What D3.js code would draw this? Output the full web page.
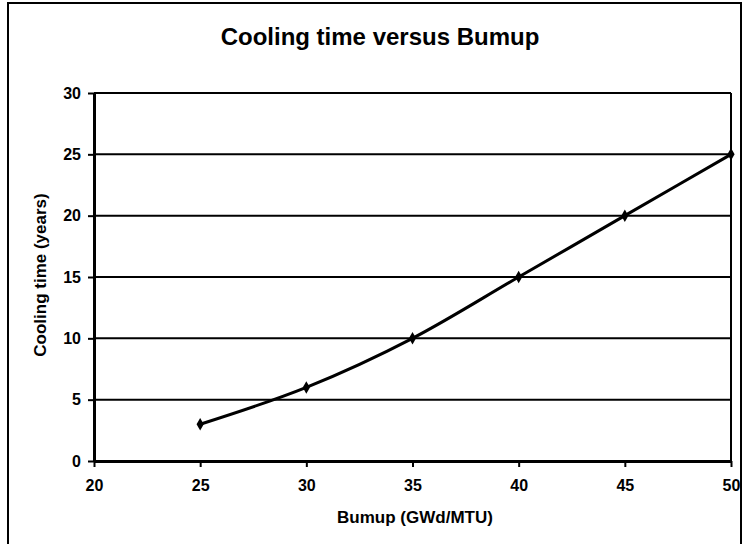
<!DOCTYPE html>
<html>
<head>
<meta charset="utf-8">
<script src="https://cdn.jsdelivr.net/npm/d3@7/dist/d3.min.js"></script>
<style>
  body { margin: 0; background: #fff; }
  svg text { font-family: "Liberation Sans", Arial, sans-serif; font-weight: bold; fill: #000; }
</style>
</head>
<body>
<script>
// values
var burnup = [25, 30, 35, 40, 45, 50];
var coolingTime = [3, 6, 10, 15, 20, 25];
var xTicks = [20, 25, 30, 35, 40, 45, 50];
var yTicks = [0, 5, 10, 15, 20, 25, 30];

var width = 744, height = 544;
var margin = {top: 93, right: 13, bottom: 83, left: 94};

var svg = d3.select("body").append("svg")
    .attr("width", width)
    .attr("height", height);

// outer chart frame
svg.append("rect")
    .attr("x", 8).attr("y", 3)
    .attr("width", 733).attr("height", 570)
    .style("fill", "none")
    .style("stroke", "#000")
    .style("stroke-width", 2);

var x = d3.scaleLinear().domain([20, 50]).range([margin.left, width - margin.right]);
var y = d3.scaleLinear().domain([0, 30]).range([height - margin.bottom, margin.top]);

// horizontal gridlines
svg.append("g")
    .selectAll("line")
    .data(yTicks)
    .enter().append("line")
    .attr("x1", x(20)).attr("x2", x(50))
    .attr("y1", function(d) { return y(d); })
    .attr("y2", function(d) { return y(d); })
    .style("stroke", "#000")
    .style("stroke-width", 2);

// right border of plot area
svg.append("line")
    .attr("x1", x(50)).attr("x2", x(50))
    .attr("y1", y(0)).attr("y2", y(30))
    .style("stroke", "#000")
    .style("stroke-width", 2);

var xAxis = svg.append("g")
    .attr("transform", "translate(0," + y(0) + ")")
    .call(d3.axisBottom(x).tickValues(xTicks).tickSize(6).tickPadding(13).tickSizeOuter(0));
var yAxis = svg.append("g")
    .attr("transform", "translate(" + x(20) + ",0)")
    .call(d3.axisLeft(y).tickValues(yTicks).tickSize(6).tickPadding(7).tickSizeOuter(0));

[xAxis, yAxis].forEach(function(a) {
    a.select(".domain").style("stroke", "#000").style("stroke-width", 3);
    a.selectAll(".tick line").style("stroke", "#000").style("stroke-width", 2);
    a.selectAll(".tick text")
        .style("font-size", "16px")
        .style("font-family", "'Liberation Sans', Arial, sans-serif")
        .style("font-weight", "bold");
});

// smooth curve through the points
var line = d3.line()
    .x(function(d) { return x(d[0]); })
    .y(function(d) { return y(d[1]); })
    .curve(d3.curveMonotoneX);

var pts = burnup.map(function(b, i) { return [b, coolingTime[i]]; });

svg.append("path")
    .datum(pts)
    .attr("d", line)
    .style("fill", "none")
    .style("stroke", "#000")
    .style("stroke-width", 3);

svg.append("g")
    .selectAll("path")
    .data(pts)
    .enter().append("path")
    .attr("transform", function(d) { return "translate(" + x(d[0]) + "," + y(d[1]) + ")"; })
    .attr("d", d3.symbol().type(d3.symbolDiamond).size(45))
    .style("fill", "#000");

// title and axis labels
svg.append("text")
    .attr("x", 380).attr("y", 45)
    .style("text-anchor", "middle")
    .style("font-size", "24px")
    .text("Cooling time versus Bumup");

svg.append("text")
    .attr("x", 415).attr("y", 523)
    .style("text-anchor", "middle")
    .style("font-size", "17px")
    .text("Bumup (GWd/MTU)");

svg.append("text")
    .attr("transform", "translate(46," + 275 + ") rotate(-90)")
    .style("text-anchor", "middle")
    .style("font-size", "17px")
    .text("Cooling time (years)");
</script>
</body>
</html>
